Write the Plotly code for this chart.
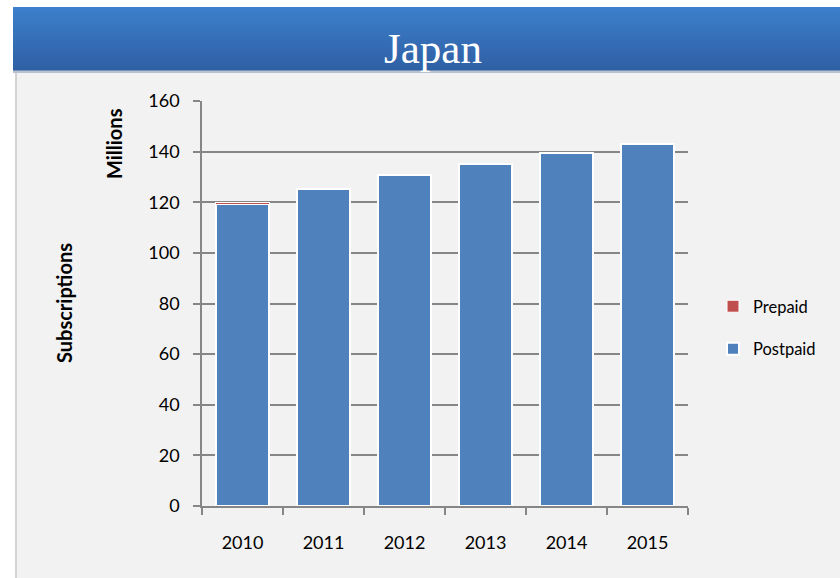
import plotly.graph_objects as go

years = ["2010", "2011", "2012", "2013", "2014", "2015"]
postpaid = [119.2, 125.4, 130.6, 135.0, 139.4, 143.2]
prepaid = [0.8, 0, 0, 0, 0, 0]
y_ticks = [0, 20, 40, 60, 80, 100, 120, 140, 160]

W, H = 840, 578
FONT = "Lato"
L, R, T, B = 202, 688, 101, 506


def px(x):
    return (x - L) / (R - L)


def py(y):
    return (B - y) / (B - T)


fig = go.Figure()
fig.add_trace(go.Bar(
    x=years, y=postpaid, name="Postpaid", legendgroup="b", legendrank=2,
    marker=dict(color="#4F81BD", line=dict(color="white", width=2)),
))
fig.add_trace(go.Bar(
    x=years, y=prepaid, name="Prepaid", legendgroup="a", legendrank=1,
    marker=dict(color="#C0504D", line=dict(color="white", width=1.0)),
))

shapes = []
# panel
shapes.append(dict(type="rect", xref="paper", yref="paper",
                   x0=px(16), x1=px(842), y0=py(580), y1=py(72),
                   fillcolor="#F2F2F2", line=dict(color="#C8C8C8", width=1.5), layer="below"))
# title bar shadow
shapes.append(dict(type="rect", xref="paper", yref="paper",
                   x0=px(13), x1=px(842), y0=py(73), y1=py(69),
                   fillcolor="#B9C3CF", line=dict(width=0), layer="below"))
# gradient title bar
top, bot = 7, 70
n = bot - top
c0 = (0x3C, 0x7F, 0xCC)
c1 = (0x2F, 0x60, 0xA4)
for i in range(n):
    t = i / (n - 1)
    col = "rgb(%d,%d,%d)" % tuple(round(a + (b - a) * t) for a, b in zip(c0, c1))
    ya = top + i
    yb = top + i + 1.6
    shapes.append(dict(type="rect", xref="paper", yref="paper",
                       x0=px(13), x1=px(842), y0=py(yb), y1=py(ya),
                       fillcolor=col, line=dict(width=0), layer="below"))

fig.update_layout(
    width=W, height=H,
    margin=dict(l=L, r=W - R, t=T, b=H - B),
    paper_bgcolor="white", plot_bgcolor="rgba(0,0,0,0)",
    barmode="stack", bargap=0.34,
    shapes=shapes,
    font=dict(family=FONT, color="#000000", size=18),
    showlegend=True,
    legend=dict(x=px(713), y=py(289), xanchor="left", yanchor="top",
                xref="paper", yref="paper",
                traceorder="grouped", tracegroupgap=18,
                bgcolor="rgba(0,0,0,0)", font=dict(family=FONT, size=16.5),
                itemwidth=30),
    xaxis=dict(type="category", showgrid=False, showline=True, linecolor="#868686", linewidth=1.5,
               ticks="outside", tickson="boundaries", ticklen=7, tickcolor="#868686", tickwidth=1.5,
               tickfont=dict(family=FONT, size=18), ticklabelstandoff=20),
    yaxis=dict(range=[0, 160], tickvals=y_ticks, showgrid=True, gridcolor="#868686", gridwidth=1.5,
               showline=True, linecolor="#868686", linewidth=1.5, zeroline=False,
               ticks="outside", ticklen=7, tickcolor="#868686", tickwidth=1.5,
               tickfont=dict(family=FONT, size=18), ticklabelstandoff=10),
    annotations=[
        dict(text="Japan", xref="paper", yref="paper", x=px(433), y=py(48),
             xanchor="center", yanchor="middle", showarrow=False,
             font=dict(family="Liberation Serif", size=43, color="white")),
        dict(text="<b>Millions</b>", xref="paper", yref="paper", x=px(114), y=py(144),
             xanchor="center", yanchor="middle", showarrow=False, textangle=-90,
             font=dict(family=FONT, size=20)),
        dict(text="<b>Subscriptions</b>", xref="paper", yref="paper", x=px(64), y=py(303),
             xanchor="center", yanchor="middle", showarrow=False, textangle=-90,
             font=dict(family=FONT, size=20)),
    ],
)

fig.write_html("out.html", config={"displayModeBar": False},
               post_script="document.body.style.margin='0';")
